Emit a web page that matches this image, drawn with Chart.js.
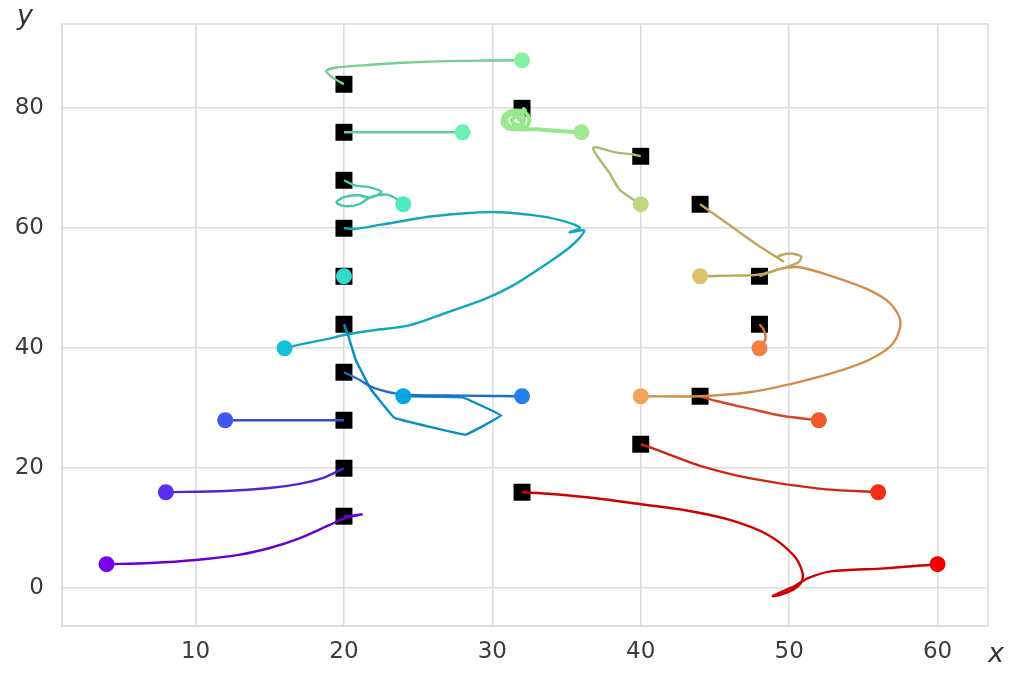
<!DOCTYPE html>
<html>
<head>
<meta charset="utf-8">
<script src="https://cdn.jsdelivr.net/npm/chart.js@4.4.1/dist/chart.umd.min.js"></script>
<style>
html,body{margin:0;padding:0;background:#fff;}
#wrap{width:1011px;height:675px;}
</style>
</head>
<body>
<div id="wrap"><canvas id="c" width="1011" height="675"></canvas></div>
<script>
// ---- data (data units) ----
const xTicks = [10, 20, 30, 40, 50, 60];
const yTicks = [0, 20, 40, 60, 80];

const startsX = [4, 8, 12, 32, 24, 20, 16, 24, 28, 32, 36, 40, 44, 40, 48, 52, 56, 60];
const startsY = [4, 16, 28, 32, 32, 52, 40, 64, 76, 88, 76, 64, 52, 32, 40, 28, 16, 4];
const goalsX  = [20, 20, 20, 20, 20, 20, 20, 20, 20, 20, 32, 40, 44, 48, 48, 44, 40, 32];
const goalsY  = [12, 20, 28, 36, 44, 52, 60, 68, 76, 84, 80, 72, 64, 52, 44, 32, 24, 16];
// colour index (0..17 along the rainbow map) of each agent
const colorIdx = [0, 1, 2, 3, 4, 6, 5, 7, 8, 9, 10, 11, 12, 13, 14, 15, 16, 17];

const path00 = [[4,4],[7,4.2],[10,4.7],[13,5.6],[15,6.7],[17,8.3],[19,10.5],[20.2,11.8],[21.2,12.3],[20.6,12.1],[20,12]];
const path01 = [[8,16],[12,16.2],[15,16.7],[17,17.4],[18.6,18.4],[20,20]];
const path02 = [[12,28],[16,28],[20,28]];
const path03 = [[32,32],[28,32.1],[24,32.3],[22,33.4],[21,34.8],[20,36]];
const path04 = [[24,32],[28,31.8],[30.6,28.8],[28.2,25.6],[23.4,28.4],[21.8,33.2],[20.8,38],[20.3,42],[20,44]];
const path05 = [[20,52]];
const path06 = [[16,40],[17,40.6],[19,41.6],[20,42.2],[22,43],[24.4,43.8],[27,46],[29.6,48.3],[31.5,50.6],[33.5,53.8],[35.3,57],[36.2,59.6],[35.2,59.3],[35.9,60.1],[34.5,61.4],[32.7,62.2],[30,62.7],[26,62],[22.5,60.6],[20.8,59.9],[20,60]];
const path07 = [[24,64.3],[22.9,65.6],[21.8,65.2],[21,64],[20,63.7],[19.5,64.3],[20,65.2],[21,65.5],[21.8,65.1],[22.5,66.1],[21.6,66.9],[20.8,67.1],[20,68]];
const path08 = [[28,76],[24,76],[20,76]];
const path09 = [[32,88],[28,87.9],[24,87.6],[21.5,87.2],[19.5,86.8],[18.8,86.2],[19.2,85.2],[20,84]];
const path10 = [[36,76],[34.5,76.2],[33,76.5],[32,76.5],[31.1,76.6],[30.7,77.5],[30.8,78.8],[31.4,79.6],[32.2,79.3],[32.5,78.2],[32.3,77],[31.6,76.7],[31,77.4],[31,78.6],[31.6,79.2],[32.1,78.6],[32.1,77.6],[31.6,77.2],[31.3,78],[31.6,78.6],[31.9,78],[31.7,79],[32.2,79.6],[32,80]];
const path11 = [[40,64],[38.6,66.4],[37.9,69.2],[36.8,73.4],[38.4,72.6],[39.5,72.3],[40,72]];
const path12 = [[44,52],[46,52.1],[48,52.3],[49.5,53.3],[50.6,54.3],[50.8,55.3],[50,55.8],[49.2,55.2],[49.6,54.5],[48,57],[46,60.5],[44,64]];
const path13 = [[40,32],[44,32],[47.4,32.7],[50.7,34.4],[53.5,36.3],[55.5,38.2],[57,40.8],[57.5,44.4],[56.8,47.5],[55.3,49.8],[53,51.9],[50.7,53.5],[49.3,53.2],[48,52]];
const path14 = [[48,40],[48.4,41.5],[48.3,43],[48,44]];
const path15 = [[52,28],[49.6,28.7],[47.4,29.9],[45.1,31.2],[44,32]];
const path16 = [[56,16],[52,16.6],[47.4,18.3],[44,20.4],[41.8,22.4],[40.6,23.5],[40,24]];
const path17 = [[60,4],[56.4,3.3],[52.8,2.8],[51.2,1.6],[50.4,0.4],[48.9,-1.3],[49.4,-1.1],[50.3,-0.2],[50.8,0.9],[50.9,2.6],[50.3,5.5],[48.5,9],[46,11.4],[43,13],[40,14],[37,15],[34,15.7],[32,16]];

const paths = [path00,path01,path02,path03,path04,path05,path06,path07,path08,path09,path10,path11,path12,path13,path14,path15,path16,path17];

// ---- styles ----
function rainbow(t, k){
  const r = Math.min(1, Math.abs(2*t - 0.5));
  const g = Math.sin(Math.PI*t);
  const b = Math.cos(Math.PI*t/2);
  return 'rgb(' + Math.round(r*255*k) + ',' + Math.round(g*255*k) + ',' + Math.round(b*255*k) + ')';
}
const nAgents = goalsX.length;
const pointColors = colorIdx.map(c => rainbow(c/(nAgents-1), 0.95));
const lineColors  = colorIdx.map((c, i) => i === 10 ? 'rgb(150,232,140)' : rainbow(c/(nAgents-1), 0.82));
const pathTension = paths.map((p, i) => i === 4 ? 0.05 : 0.3);
const pathWidth = paths.map((p, i) => i === 10 ? 4 : 2.4);

const tickFont = {family: 'DejaVu Sans', size: 23};
const tickColor = '#3c3c3c';
const gridColor = '#dcdcdc';

const datasets = [];
datasets.push({
  label: 'goals',
  data: goalsX.map((x,i)=>({x:x, y:goalsY[i]})),
  pointStyle: 'rect', pointRadius: 12, pointBackgroundColor: '#000', pointBorderColor: '#000', pointBorderWidth: 0,
  showLine: false, order: 3
});
paths.forEach((p, i) => {
  if (p.length < 2) return;
  datasets.push({
    label: 'path' + i,
    data: p.map(q=>({x:q[0], y:q[1]})),
    showLine: true, pointRadius: 0, borderColor: lineColors[i], borderWidth: pathWidth[i], tension: pathTension[i], fill: false, order: 2
  });
});
datasets.push({
  label: 'starts',
  data: startsX.map((x,i)=>({x:x, y:startsY[i]})),
  pointStyle: 'circle', pointRadius: 8, pointBackgroundColor: pointColors, pointBorderColor: pointColors, pointBorderWidth: 0,
  showLine: false, order: 1
});

const axisLabels = {
  id: 'axisLabels',
  afterDraw(chart){
    const ctx = chart.ctx;
    ctx.save();
    ctx.fillStyle = '#333';
    ctx.font = 'oblique 27px "DejaVu Sans"';
    ctx.textAlign = 'center';
    ctx.textBaseline = 'middle';
    ctx.fillText('y', 25, 17);
    ctx.fillText('x', 996, 655);
    ctx.restore();
  }
};

new Chart(document.getElementById('c'), {
  type: 'scatter',
  data: {datasets: datasets},
  options: {
    responsive: false, animation: false,
    layout: {padding: {top: 24, right: 23, left: 0, bottom: 0}},
    plugins: {legend: {display: false}, tooltip: {enabled: false}},
    scales: {
      x: {
        type: 'linear', min: 1.0, max: 63.4,
        afterBuildTicks: s => { s.ticks = xTicks.map(v=>({value:v})); },
        afterFit: s => { s.height = 49; s.paddingLeft = 0; s.paddingRight = 0; },
        ticks: {font: tickFont, color: tickColor, padding: 12, maxRotation: 0},
        grid: {color: gridColor, lineWidth: 1.6, drawTicks: false},
        border: {color: gridColor, width: 1.6}
      },
      y: {
        type: 'linear', min: -6.3, max: 94.05,
        afterBuildTicks: s => { s.ticks = yTicks.map(v=>({value:v})); },
        afterFit: s => { s.width = 62; s.paddingTop = 0; s.paddingBottom = 0; },
        ticks: {font: tickFont, color: tickColor, padding: 18},
        grid: {color: gridColor, lineWidth: 1.6, drawTicks: false},
        border: {color: gridColor, width: 1.6}
      }
    }
  },
  plugins: [axisLabels, {
    id: 'frame',
    beforeDatasetsDraw(chart){
      const a = chart.chartArea, ctx = chart.ctx;
      ctx.save();
      ctx.strokeStyle = gridColor; ctx.lineWidth = 1.6;
      ctx.strokeRect(a.left, a.top, a.right - a.left, a.bottom - a.top);
      ctx.restore();
    }
  }]
});
</script>
</body>
</html>
